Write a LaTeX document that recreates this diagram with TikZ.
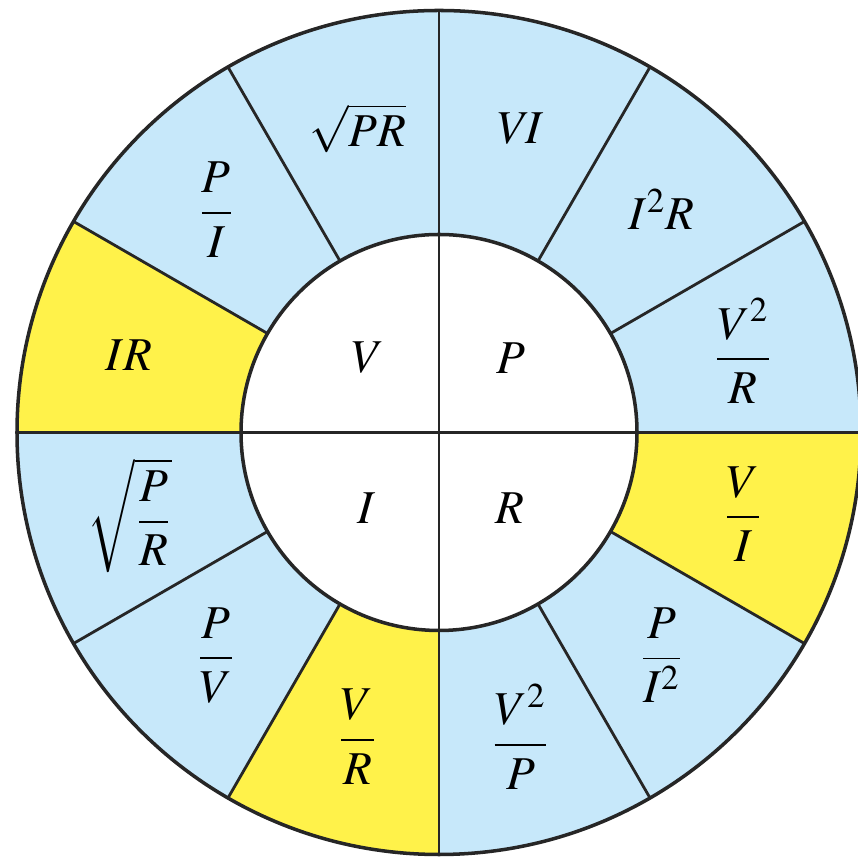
\documentclass[tikz,border=0pt]{standalone}
\usepackage{mathptmx}
\usepackage{amsmath}
\definecolor{skyblue}{HTML}{C7E8FA}
\definecolor{lemon}{HTML}{FFF24A}
\definecolor{ink}{HTML}{262626}
\tikzset{
  ringlabel/.style={inner sep=0pt, font=\fontsize{13.4}{16}\selectfont},
  divline/.style={draw=ink, line width=0.8pt},
  rimline/.style={draw=ink, line width=1pt}
}
\begin{document}
\begin{tikzpicture}
\useasboundingbox (0,0) rectangle (8.58,8.58);
\begin{scope}[shift={(4.39,4.255)}]
  \def\Ro{4.22}
  \def\Ri{1.98}
  % sectors
  \foreach \a/\c in {60/skyblue,30/skyblue,0/skyblue,-30/lemon,-60/skyblue,-90/skyblue,
                     -120/lemon,-150/skyblue,-180/skyblue,150/lemon,120/skyblue,90/skyblue}{
    \fill[\c] (\a:\Ro) arc[start angle=\a, end angle=\a+30, radius=\Ro]
      -- (\a+30:\Ri) arc[start angle=\a+30, end angle=\a, radius=\Ri] -- cycle;
  }
  \fill[white] (0,0) circle[radius=\Ri];
  % radial dividers
  \foreach \a in {30,60,120,150,210,240,300,330}{
    \draw[divline] (\a:\Ri) -- (\a:\Ro);
  }
  \draw[divline] (0:\Ro) -- (180:\Ro);
  \draw[divline] (90:\Ro) -- (270:\Ro);
  \draw[rimline] (0,0) circle[radius=\Ri];
  \draw[rimline] (0,0) circle[radius=\Ro];
  % inner labels
  \node[ringlabel] (qV) at (-0.71,0.745) {$V$};
  \node[ringlabel] (qP) at (0.72,0.745) {$P$};
  \node[ringlabel] (qI) at (-0.72,-0.755) {$I$};
  \node[ringlabel] (qR) at (0.71,-0.755) {$R$};
  % ring labels
  \def\Rl{3.15}
  \node[ringlabel] (sVI)   at (75:\Rl)   {$V\mkern-2mu I$};
  \node[ringlabel] (sIIR)  at (45:\Rl)   {$I^2R$};
  \node[ringlabel] (sVVR)  at (15:\Rl)   {$\dfrac{V^2}{R}$};
  \node[ringlabel] (sVI2)  at (-15:\Rl)  {$\dfrac{V}{I}$};
  \node[ringlabel] (sPII)  at (-45:\Rl)  {$\dfrac{P}{I^2}$};
  \node[ringlabel] (sVVP)  at (-75:\Rl)  {$\dfrac{V^2}{P}$};
  \node[ringlabel] (sVR)   at (-105:\Rl) {$\dfrac{V}{R}$};
  \node[ringlabel] (sPV)   at (-135:\Rl) {$\dfrac{P}{V}$};
  \node[ringlabel] (sPR)   at (-165:3.2) {$\sqrt{\dfrac{P}{R}}$};
  \node[ringlabel] (sIR)   at (166:3.2)  {$IR$};
  \node[ringlabel] (sPI)   at (135:\Rl)  {$\dfrac{P}{I}$};
  \node[ringlabel] (sPRr)  at (105:\Rl)  {$\sqrt{PR}$};
\end{scope}
\end{tikzpicture}
\end{document}
